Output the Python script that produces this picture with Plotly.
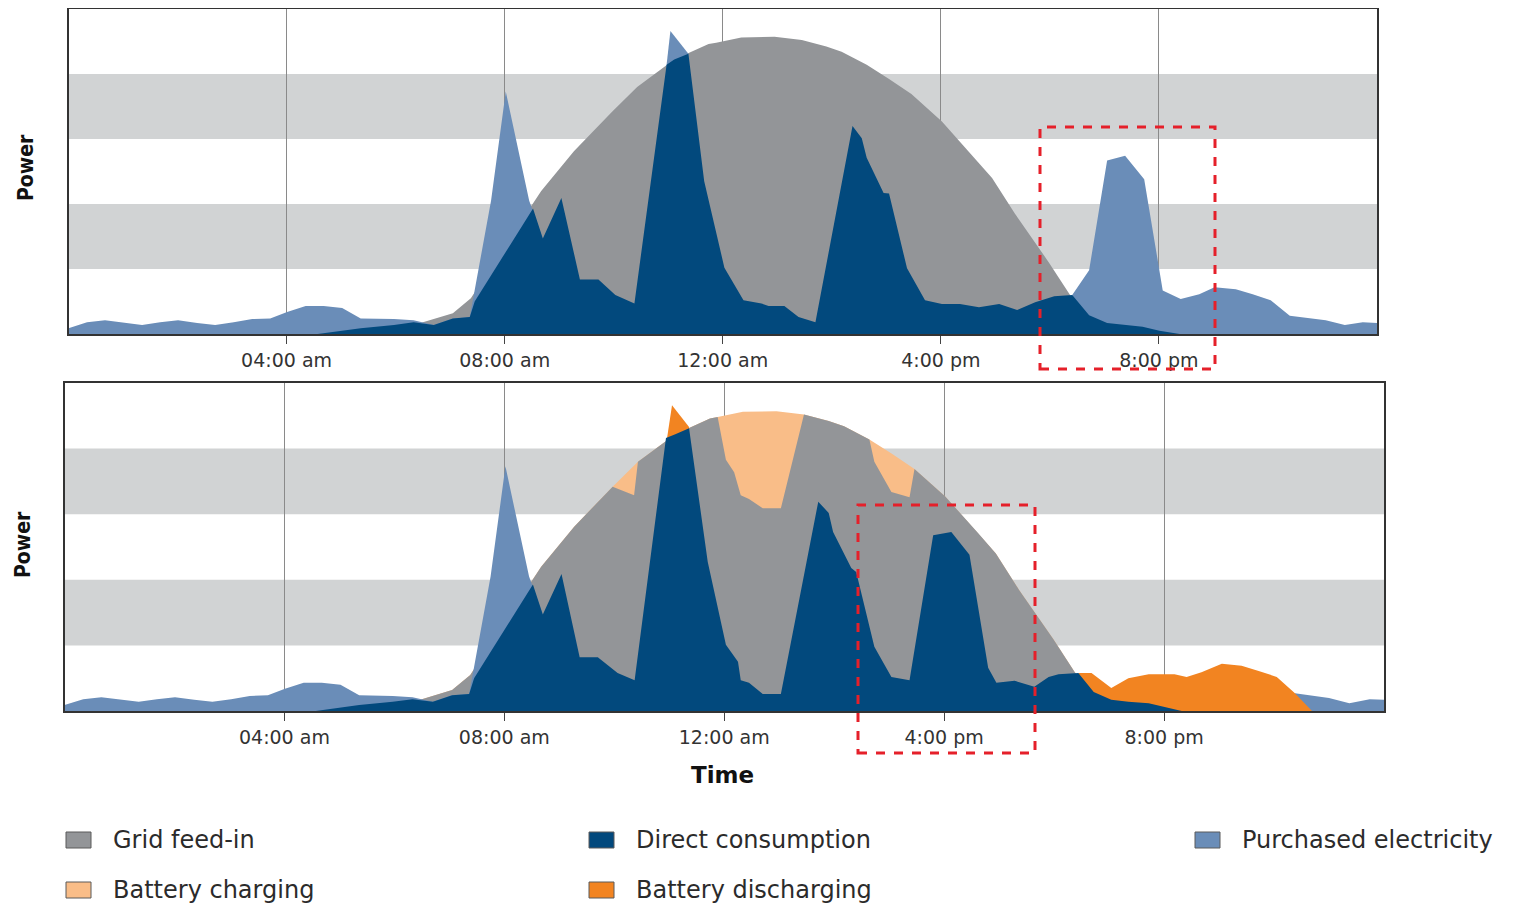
import plotly.graph_objects as go

# page body keeps an 8px margin, so the figure is drawn 8px in from the window edge
OFF = 8
W, H = 1519 - OFF, 904 - OFF

# tick labels on the time axis (hours of the day)
tick_hours = [4, 8, 12, 16, 20]
tick_labels = ["04:00 am", "08:00 am", "12:00 am", "4:00 pm", "8:00 pm"]

# PV production (the grey bell, shared by both panels)
pv_hours = [6.0, 6.5, 7.05, 7.38, 8.0, 8.67, 9.27, 9.97, 10.43, 11.11, 11.74, 11.88, 12.34, 12.95,
            13.45, 13.9, 14.18, 14.64, 15.05, 15.46, 16.02, 16.62, 16.94, 17.36, 17.99, 18.37, 18.9]
pv_power = [0, 0.18, 0.32, 0.55, 1.35, 2.20, 2.81, 3.42, 3.80, 4.22, 4.46, 4.48, 4.56, 4.57,
            4.52, 4.42, 4.34, 4.14, 3.92, 3.69, 3.27, 2.71, 2.40, 1.85, 1.09, 0.60, 0]

# --- top panel: without battery ---
direct_hours = [4.57, 5.36, 5.97, 6.33, 6.70, 7.05, 7.36, 7.45, 8.52, 8.70, 9.04, 9.38, 9.72, 10.03,
                10.38, 10.97, 11.11, 11.37, 11.66, 12.03, 12.38, 12.71, 12.84, 13.13, 13.39, 13.70,
                14.38, 14.55, 14.64, 14.95, 15.05, 15.38, 15.71, 16.02, 16.35, 16.70, 17.07, 17.40,
                17.73, 18.08, 18.41, 18.72, 19.05, 19.38, 19.70, 20.01, 20.38]
direct_power = [0, 0.09, 0.14, 0.18, 0.14, 0.24, 0.26, 0.50, 1.93, 1.47, 2.09, 0.84, 0.84, 0.60,
                0.47, 4.14, 4.22, 4.31, 2.35, 1.02, 0.52, 0.47, 0.43, 0.43, 0.26, 0.18,
                3.20, 3.01, 2.71, 2.17, 2.16, 1.01, 0.52, 0.46, 0.46, 0.41, 0.46, 0.37,
                0.49, 0.58, 0.60, 0.29, 0.17, 0.14, 0.11, 0.05, 0]

# purchased electricity (night + morning spike), same in both panels
night_hours = [0.0, 0.34, 0.67, 1.0, 1.35, 1.68, 2.01, 2.36, 2.69, 3.03, 3.37, 3.70, 4.01, 4.35,
               4.68, 5.02, 5.36, 5.97, 6.33, 6.70, 7.05, 7.36, 7.75, 8.02, 8.45, 8.70]
night_power = [0.09, 0.18, 0.21, 0.18, 0.14, 0.18, 0.21, 0.17, 0.14, 0.18, 0.23, 0.24, 0.34, 0.43,
               0.43, 0.40, 0.24, 0.23, 0.21, 0.14, 0.24, 0.26, 2.05, 3.73, 2.05, 1.47]

# consumption peak above PV around 11 am
peak_hours = [10.97, 11.04, 11.37]
peak_power = [4.14, 4.66, 4.31]

# evening purchased electricity (top panel)
evening_hours = [18.41, 18.72, 19.05, 19.38, 19.73, 20.07, 20.40, 20.74, 21.02, 21.41, 21.72,
                 22.05, 22.40, 23.06, 23.41, 23.74, 24.0]
evening_power = [0.60, 0.98, 2.67, 2.74, 2.38, 0.67, 0.54, 0.61, 0.72, 0.69, 0.61,
                 0.52, 0.28, 0.21, 0.14, 0.18, 0.17]

# --- bottom panel: with battery ---
feed_hours_b = [6.0, 6.5, 7.05, 7.38, 8.0, 8.67, 9.27, 9.97, 10.36, 10.43, 11.11, 11.74, 11.88,
                12.03, 12.18, 12.30, 12.45, 12.70, 13.03, 13.45, 13.9, 14.18, 14.64, 14.73, 15.04,
                15.37, 15.46, 16.02, 16.62, 16.94, 17.36, 17.99, 18.37, 18.9]
feed_power_b = [0, 0.18, 0.32, 0.55, 1.35, 2.20, 2.81, 3.42, 3.29, 3.80, 4.22, 4.46, 4.48,
                3.83, 3.64, 3.29, 3.23, 3.09, 3.09, 4.52, 4.42, 4.34, 4.14, 3.80, 3.34,
                3.26, 3.69, 3.27, 2.71, 2.40, 1.85, 1.09, 0.60, 0]

direct_hours_b = [4.57, 5.36, 5.97, 6.33, 6.70, 7.05, 7.36, 7.45, 8.52, 8.70, 9.04, 9.37, 9.70,
                  10.06, 10.37, 10.94, 11.11, 11.36, 11.70, 12.03, 12.25, 12.30, 12.45, 12.70,
                  13.03, 13.71, 13.90, 13.98, 14.31, 14.40, 14.73, 15.04, 15.37, 15.80, 16.13,
                  16.46, 16.80, 16.95, 17.28, 17.64, 17.90, 18.08, 18.44, 18.72, 19.04, 19.35,
                  19.72, 20.32]
direct_power_b = [0, 0.09, 0.14, 0.18, 0.14, 0.24, 0.26, 0.50, 1.93, 1.47, 2.09, 0.82, 0.82,
                  0.58, 0.47, 4.16, 4.22, 4.31, 2.27, 1.01, 0.75, 0.47, 0.43, 0.26,
                  0.26, 3.19, 3.02, 2.73, 2.18, 2.12, 0.98, 0.52, 0.47, 2.68, 2.73,
                  2.38, 0.66, 0.43, 0.46, 0.37, 0.52, 0.56, 0.58, 0.29, 0.17, 0.14,
                  0.12, 0]

tail_hours_b = [22.38, 23.00, 23.37, 23.74, 24.0]
tail_power_b = [0.27, 0.20, 0.12, 0.18, 0.17]

dis_peak_hours_b = [10.96, 11.05, 11.36]
dis_peak_power_b = [4.16, 4.66, 4.33]

dis_evening_hours_b = [18.44, 18.68, 19.04, 19.35, 19.72, 20.19, 20.41, 20.68, 21.05, 21.41,
                       21.72, 22.05, 22.38, 22.69]
dis_evening_power_b = [0.58, 0.58, 0.35, 0.50, 0.56, 0.56, 0.52, 0.59, 0.72, 0.69,
                       0.61, 0.52, 0.27, 0]

C_GRID = "#939598"
C_DIRECT = "#02497d"
C_PURCH = "#6a8db8"
C_CHARGE = "#f9bd88"
C_DISCH = "#f28421"
C_STRIPE = "#d1d3d4"


def area(x, y, color, name, xa, ya):
    return go.Scatter(x=x, y=y, mode="lines", fill="tozeroy", fillcolor=color,
                      line=dict(width=0, color=color), name=name, showlegend=False,
                      xaxis=xa, yaxis=ya, hoverinfo="skip")


fig = go.Figure()
# top
fig.add_trace(area(pv_hours, pv_power, C_GRID, "Grid feed-in", "x", "y"))
fig.add_trace(area(night_hours, night_power, C_PURCH, "Purchased electricity", "x", "y"))
fig.add_trace(area(peak_hours, peak_power, C_PURCH, "Purchased electricity", "x", "y"))
fig.add_trace(area(evening_hours, evening_power, C_PURCH, "Purchased electricity", "x", "y"))
fig.add_trace(area(direct_hours, direct_power, C_DIRECT, "Direct consumption", "x", "y"))
# bottom
fig.add_trace(area(pv_hours, pv_power, C_CHARGE, "Battery charging", "x2", "y2"))
fig.add_trace(area(feed_hours_b, feed_power_b, C_GRID, "Grid feed-in", "x2", "y2"))
fig.add_trace(area(night_hours, night_power, C_PURCH, "Purchased electricity", "x2", "y2"))
fig.add_trace(area(tail_hours_b, tail_power_b, C_PURCH, "Purchased electricity", "x2", "y2"))
fig.add_trace(area(dis_peak_hours_b, dis_peak_power_b, C_DISCH, "Battery discharging", "x2", "y2"))
fig.add_trace(area(dis_evening_hours_b, dis_evening_power_b, C_DISCH, "Battery discharging", "x2", "y2"))
fig.add_trace(area(direct_hours_b, direct_power_b, C_DIRECT, "Direct consumption", "x2", "y2"))


def px_x(p):
    return (p - OFF) / W


def px_y(p):
    return 1 - (p - OFF) / H


xax = dict(range=[0, 24], tickvals=tick_hours, ticktext=tick_labels, ticks="outside", ticklen=8,
           tickcolor="#444", tickwidth=1, showgrid=True, gridcolor="#8a8a8a", gridwidth=1,
           showline=True, mirror=True, linecolor="#333", linewidth=2, zeroline=False,
           tickfont=dict(family="DejaVu Sans", size=19, color="#333"), fixedrange=True)
yax = dict(range=[0, 5], showticklabels=False, showgrid=False, zeroline=False, ticks="",
           showline=True, mirror=True, linecolor="#333", linewidth=2, fixedrange=True)

fig.update_layout(
    width=W, height=H, margin=dict(l=0, r=0, t=0, b=0),
    paper_bgcolor="white", plot_bgcolor="white", showlegend=False,
    xaxis=dict(xax, domain=[px_x(68.5), px_x(1377)], anchor="y"),
    yaxis=dict(yax, domain=[px_y(334), 0.999], anchor="x"),
    xaxis2=dict(xax, domain=[px_x(64.5), px_x(1384)], anchor="y2"),
    yaxis2=dict(yax, domain=[px_y(711), px_y(383)], anchor="x2"),
)

shapes = []
# grey background stripes
for xr, yr in [("x", "y"), ("x2", "y2")]:
    for lo, hi in [(1, 2), (3, 4)]:
        shapes.append(dict(type="rect", xref=xr + " domain", yref=yr, x0=0, x1=1, y0=lo, y1=hi,
                           fillcolor=C_STRIPE, line=dict(width=0), layer="below"))
# red highlight boxes
for x0, x1, y0, y1 in [(1040, 1215, 127, 369), (858, 1035, 505, 753)]:
    shapes.append(dict(type="rect", xref="paper", yref="paper", x0=px_x(x0), x1=px_x(x1),
                       y0=px_y(y1), y1=px_y(y0), line=dict(color="#e5202a", width=3, dash="dash"),
                       fillcolor="rgba(0,0,0,0)", layer="above"))

title_font = dict(family="DejaVu Sans Condensed, DejaVu Sans", size=21, color="#111")
annotations = [
    dict(text="<b>Power</b>", x=px_x(26), y=px_y(168), textangle=-90, font=title_font),
    dict(text="<b>Power</b>", x=px_x(23), y=px_y(545), textangle=-90, font=title_font),
    dict(text="<b>Time</b>", x=px_x(722), y=px_y(775),
         font=dict(family="DejaVu Sans", size=23, color="#111")),
]
for a in annotations:
    a.update(showarrow=False, xref="paper", yref="paper", xanchor="center", yanchor="middle")

# legend
legend_items = [("Grid feed-in", C_GRID, 66, 840), ("Direct consumption", C_DIRECT, 589, 840),
                ("Purchased electricity", C_PURCH, 1195, 840),
                ("Battery charging", C_CHARGE, 66, 890), ("Battery discharging", C_DISCH, 589, 890)]
for label, col, lx, ly in legend_items:
    shapes.append(dict(type="rect", xref="paper", yref="paper", x0=px_x(lx), x1=px_x(lx + 25),
                       y0=px_y(ly + 8), y1=px_y(ly - 8), fillcolor=col,
                       line=dict(color="#5a5a5a", width=1)))
    annotations.append(dict(text=label, x=px_x(lx + 45), y=px_y(ly), xanchor="left",
                            yanchor="middle", showarrow=False, xref="paper", yref="paper",
                            font=dict(family="DejaVu Sans", size=24, color="#2b2b2b")))

fig.update_layout(shapes=shapes, annotations=annotations)

fig.write_html("out.html")
